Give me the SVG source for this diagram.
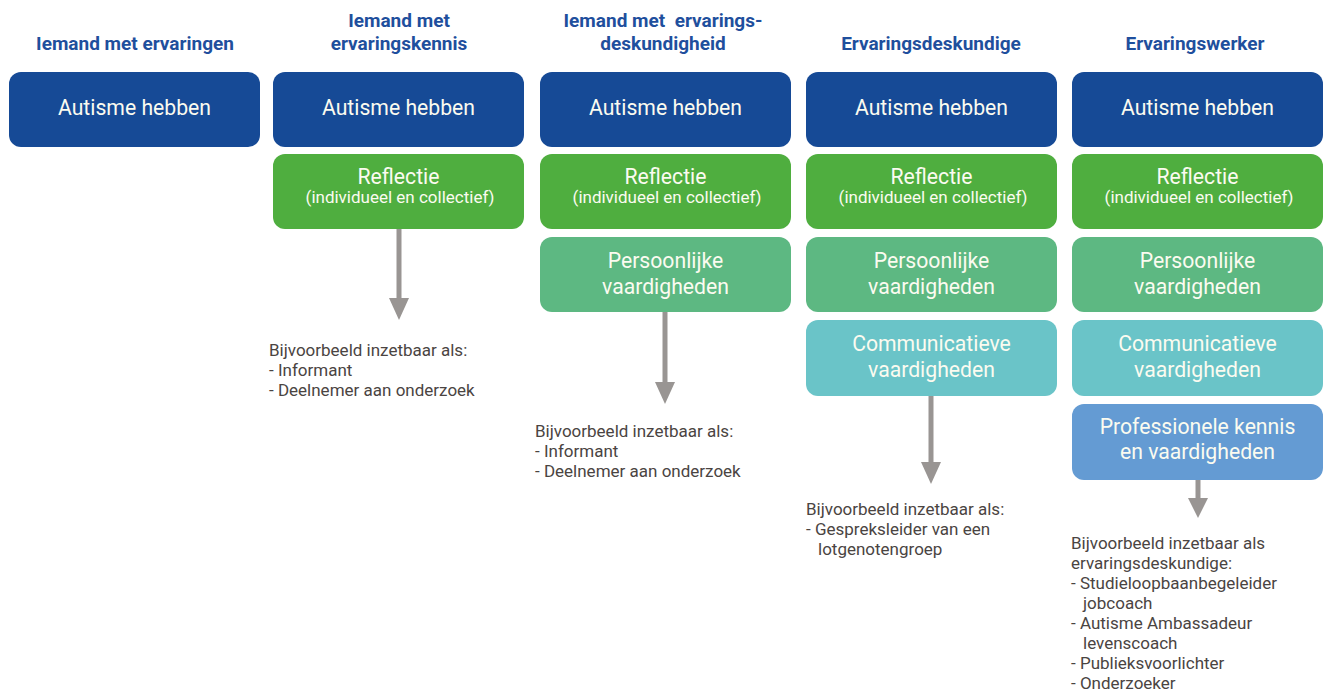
<svg xmlns="http://www.w3.org/2000/svg" width="1331" height="693" viewBox="0 0 1331 693">
<style>
.hd{font-family:Roboto,"Liberation Sans",sans-serif;font-weight:bold;font-size:19px;fill:#1f4f9d;text-anchor:middle}
.bx{font-family:Roboto,"Liberation Sans",sans-serif;font-size:21.2px;fill:#fbfbf0;text-anchor:middle}
.sm{font-family:Roboto,"Liberation Sans",sans-serif;font-size:17px;fill:#fbfbf0;text-anchor:middle}
.ex{font-family:Roboto,"Liberation Sans",sans-serif;font-size:17px;fill:#4a4442}
.b1{fill:#164a96}.b2{fill:#4fae3f}.b3{fill:#5db882}.b4{fill:#6ac4c8}.b5{fill:#649bd3}
.ar{stroke:#999593;stroke-width:5;fill:none}
.ah{fill:#999593}
</style>
<g id="headers">
<text class="hd" x="135" y="50">Iemand met ervaringen</text>
<text class="hd" x="399" y="27">Iemand met</text>
<text class="hd" x="399" y="50">ervaringskennis</text>
<text class="hd" x="663" y="27" xml:space="preserve">Iemand met  ervarings-</text>
<text class="hd" x="663" y="50">deskundigheid</text>
<text class="hd" x="931" y="50">Ervaringsdeskundige</text>
<text class="hd" x="1195" y="50">Ervaringswerker</text>
</g>
<g id="col1">
<g id="c1-autisme"><rect class="b1" x="9" y="72" width="251" height="75" rx="12"/><text class="bx" x="134.5" y="115">Autisme hebben</text></g>
</g>
<g id="col2">
<g id="c2-autisme"><rect class="b1" x="273" y="72" width="251" height="75" rx="12"/><text class="bx" x="398.5" y="115">Autisme hebben</text></g>
<g id="c2-reflectie"><rect class="b2" x="273" y="154" width="251" height="75" rx="12"/><text class="bx" x="398.5" y="184">Reflectie</text><text class="sm" x="400" y="203">(individueel en collectief)</text></g>
<text class="ex"><tspan x="269" y="356">Bijvoorbeeld inzetbaar als:</tspan><tspan x="269" y="376">- Informant</tspan><tspan x="269" y="396">- Deelnemer aan onderzoek</tspan></text>
</g>
<g id="col3">
<g id="c3-autisme"><rect class="b1" x="540" y="72" width="251" height="75" rx="12"/><text class="bx" x="665.5" y="115">Autisme hebben</text></g>
<g id="c3-reflectie"><rect class="b2" x="540" y="154" width="251" height="75" rx="12"/><text class="bx" x="665.5" y="184">Reflectie</text><text class="sm" x="667" y="203">(individueel en collectief)</text></g>
<g id="c3-persoonlijk"><rect class="b3" x="540" y="237" width="251" height="75" rx="12"/><text class="bx" x="665.5" y="268">Persoonlijke</text><text class="bx" x="665.5" y="294">vaardigheden</text></g>
<text class="ex"><tspan x="535" y="437">Bijvoorbeeld inzetbaar als:</tspan><tspan x="535" y="457">- Informant</tspan><tspan x="535" y="477">- Deelnemer aan onderzoek</tspan></text>
</g>
<g id="col4">
<g id="c4-autisme"><rect class="b1" x="806" y="72" width="251" height="75" rx="12"/><text class="bx" x="931.5" y="115">Autisme hebben</text></g>
<g id="c4-reflectie"><rect class="b2" x="806" y="154" width="251" height="75" rx="12"/><text class="bx" x="931.5" y="184">Reflectie</text><text class="sm" x="933" y="203">(individueel en collectief)</text></g>
<g id="c4-persoonlijk"><rect class="b3" x="806" y="237" width="251" height="75" rx="12"/><text class="bx" x="931.5" y="268">Persoonlijke</text><text class="bx" x="931.5" y="294">vaardigheden</text></g>
<g id="c4-communicatief"><rect class="b4" x="806" y="320" width="251" height="76" rx="12"/><text class="bx" x="931.5" y="351">Communicatieve</text><text class="bx" x="931.5" y="377">vaardigheden</text></g>
<text class="ex"><tspan x="806" y="515">Bijvoorbeeld inzetbaar als:</tspan><tspan x="806" y="535">- Gespreksleider van een</tspan><tspan x="818" y="555">lotgenotengroep</tspan></text>
</g>
<g id="col5">
<g id="c5-autisme"><rect class="b1" x="1072" y="72" width="251" height="75" rx="12"/><text class="bx" x="1197.5" y="115">Autisme hebben</text></g>
<g id="c5-reflectie"><rect class="b2" x="1072" y="154" width="251" height="75" rx="12"/><text class="bx" x="1197.5" y="184">Reflectie</text><text class="sm" x="1199" y="203">(individueel en collectief)</text></g>
<g id="c5-persoonlijk"><rect class="b3" x="1072" y="237" width="251" height="75" rx="12"/><text class="bx" x="1197.5" y="268">Persoonlijke</text><text class="bx" x="1197.5" y="294">vaardigheden</text></g>
<g id="c5-communicatief"><rect class="b4" x="1072" y="320" width="251" height="76" rx="12"/><text class="bx" x="1197.5" y="351">Communicatieve</text><text class="bx" x="1197.5" y="377">vaardigheden</text></g>
<g id="c5-professioneel"><rect class="b5" x="1072" y="404" width="251" height="76" rx="12"/><text class="bx" x="1197.5" y="434">Professionele kennis</text><text class="bx" x="1197.5" y="459">en vaardigheden</text></g>
<text class="ex"><tspan x="1071" y="549">Bijvoorbeeld inzetbaar als</tspan><tspan x="1071" y="569">ervaringsdeskundige:</tspan><tspan x="1071" y="589">- Studieloopbaanbegeleider</tspan><tspan x="1083" y="609">jobcoach</tspan><tspan x="1071" y="629">- Autisme Ambassadeur</tspan><tspan x="1083" y="649">levenscoach</tspan><tspan x="1071" y="669">- Publieksvoorlichter</tspan><tspan x="1071" y="689">- Onderzoeker</tspan></text>
</g>
<g id="connectors">
<line class="ar" x1="399" y1="229" x2="399" y2="300"/><polygon class="ah" points="389,298 409,298 399,320"/>
<line class="ar" x1="665" y1="312" x2="665" y2="384"/><polygon class="ah" points="655,382 675,382 665,404"/>
<line class="ar" x1="931" y1="396" x2="931" y2="464"/><polygon class="ah" points="921,462 941,462 931,484"/>
<line class="ar" x1="1198" y1="480" x2="1198" y2="500"/><polygon class="ah" points="1188,498 1208,498 1198,518"/>
</g>
</svg>
